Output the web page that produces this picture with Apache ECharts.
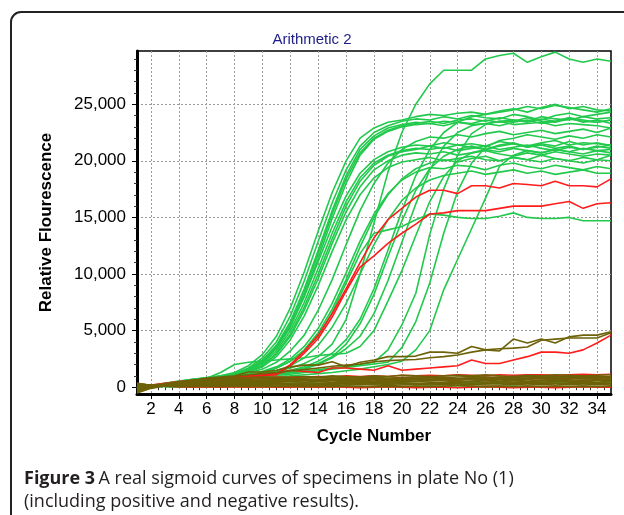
<!DOCTYPE html>
<html>
<head>
<meta charset="utf-8">
<script src="https://cdn.jsdelivr.net/npm/echarts@6/dist/echarts.min.js"></script>
<style>html,body{margin:0;padding:0;background:#fff}#chart{width:624px;height:515px}</style>
</head>
<body>
<div id="chart"></div>
<script>
// cycle numbers (x values)
var cycles = [1,2,3,4,5,6,7,8,9,10,11,12,13,14,15,16,17,18,19,20,21,22,23,24,25,26,27,28,29,30,31,32,33,34,35];
var xTicks = [2,4,6,8,10,12,14,16,18,20,22,24,26,28,30,32,34];
var yTicks = [0,5000,10000,15000,20000,25000];

// green (positive) curves
var gA1 = [-100,100,300,500,700,800,1000,1300,1900,2900,4500,7000,10200,13800,17200,20000,22000,22900,23400,23600,23900,24100,24000,24200,24300,24100,24400,24600,24300,24700,25000,24600,24800,24500,24400];
var gA2 = [0,150,350,550,700,850,1000,1200,1700,2600,4000,6300,9400,12900,16300,19200,21300,22500,23100,23500,23700,23600,23900,23700,24000,23800,23700,24100,23900,23600,24000,24200,23900,24100,24300];
var gA3 = [-200,50,250,450,650,800,950,1150,1600,2400,3700,5800,8700,12100,15600,18700,21000,22200,22900,23200,23400,23300,23500,23400,23300,23600,23400,23500,23800,23500,23400,23700,23500,23400,23600];
var gA4 = [-100,100,300,500,650,750,900,1100,1500,2200,3400,5300,8100,11400,14900,18000,20500,21900,22600,23000,23200,23300,23100,23400,23200,23300,23500,23200,23300,23400,23100,23300,23200,23100,22900];
var gA5 = [-100,50,250,450,600,750,900,1100,1550,2350,3600,5600,8400,11800,15300,18400,20700,22000,22700,23100,23300,23500,23300,23600,23700,23500,23800,23600,23500,23900,23700,23600,23900,23700,23800];
var gB1 = [-100,100,300,500,650,800,950,1200,1600,2300,3500,5400,8000,11100,14200,16900,18900,20100,20800,21200,21400,21300,21600,21400,21500,21300,21700,21500,21300,21600,21800,21400,21600,21500,21400];
var gB2 = [0,150,350,500,650,800,900,1100,1450,2100,3200,5000,7500,10500,13600,16400,18500,19800,20500,20900,21100,21000,21200,20900,21100,21300,21000,21200,21400,21100,20900,21200,21000,21300,21100];
var gB3 = [-200,0,200,400,600,750,900,1050,1400,1900,2900,4500,6800,9600,12700,15500,17700,19200,20000,20500,20700,20600,20800,20500,20700,20900,20600,20400,20700,20500,20800,20600,20400,20600,20500];
var gB4 = [-100,100,300,450,600,750,850,1000,1300,1800,2700,4200,6300,9000,12000,14800,17000,18500,19400,19900,20100,20300,20000,20200,20400,20100,20000,20300,20100,19900,20200,20000,19800,20100,20000];
var gB5 = [0,150,300,450,600,700,850,1000,1350,1950,3000,4700,7100,10000,13100,16000,18200,19600,20400,20800,21000,21300,21100,21400,21200,21000,21300,21500,21200,21400,21100,21300,21000,21200,21400];
var gC1 = [-100,100,300,450,600,700,850,1000,1250,1600,2200,3200,4600,6800,9500,12600,15600,18000,19800,21000,21700,22100,22000,22300,22100,22400,22600,22300,22500,22700,22400,22600,22800,22500,22900];
var gC2 = [0,150,300,450,600,700,800,950,1150,1400,1800,2500,3600,5200,7400,10100,12900,15300,17100,18300,19000,19400,19300,19600,19500,19200,19600,19800,19500,19300,19600,19400,19200,19500,19300];
var gC3 = [-200,50,250,400,550,700,800,900,1100,1350,1700,2300,3300,4800,6900,9500,12400,15000,17000,18400,19300,19800,20100,19900,20200,20400,20000,20300,20100,20500,20200,20000,20300,20100,20500];
var gC4 = [-100,50,200,350,500,600,700,800,950,1150,1450,1900,2600,3700,5300,7400,10000,12600,14800,16500,17600,18300,18700,18900,19100,18800,19000,19200,18900,19100,18800,19000,19200,18900,18900];
var gG15 = [-100,100,250,400,550,650,750,900,1100,1300,1700,2300,3200,4500,6600,9200,11800,13600,13900,14200,14800,15300,15200,15000,14900,14900,15100,15400,15000,14900,14900,15000,14700,14700,14700];
var gD1 = [-100,100,300,450,600,700,800,900,1000,1200,1400,1700,2100,2700,3800,6000,10000,14500,19000,22500,25000,26800,28000,28000,28000,29000,29300,29500,28700,29200,29600,29000,28700,29000,28800];
var gD2 = [-100,100,250,400,550,650,750,850,950,1100,1300,1500,1800,2300,3000,4200,6000,8700,12100,15600,18700,21000,22500,23400,23900,24100,24300,24500,24800,24600,24900,24700,24500,24300,24600];
var gD3 = [0,150,300,450,550,650,750,850,950,1050,1200,1400,1700,2100,2700,3800,5600,8200,11500,14700,17400,19300,20400,21000,21300,21000,21400,21600,21200,21500,21300,21700,21400,21600,21300];
var gD4 = [-100,100,250,400,500,600,700,800,900,1000,1100,1300,1600,2000,2600,3400,4500,6500,9400,12800,16200,19200,21300,22500,23100,23300,23100,23400,23600,23300,23500,23800,23400,23600,23300];
var gD5 = [-200,0,200,400,600,800,1300,2000,2200,2300,2400,2500,2600,2800,2900,3000,3600,5000,7600,10300,13400,16400,18600,20000,20700,21000,20800,21100,20900,20700,21000,20800,21100,20900,21000];
var gE1 = [-100,100,250,400,500,600,700,800,900,1000,1100,1250,1400,1550,1700,1850,2000,2200,3300,5500,8300,13500,17500,20500,22400,23200,23500,23600,23400,23700,23500,23800,23600,23400,23600];
var gE2 = [0,150,300,400,500,600,650,700,800,900,950,1000,1100,1200,1300,1450,1600,1800,2000,2300,3300,5000,8600,11300,14000,16700,19500,20500,20900,20700,21000,20800,20600,20900,20700];
var gE3 = [-100,50,200,350,450,550,650,750,850,950,1050,1150,1300,1450,1600,1750,1900,2050,2200,3500,5800,9200,13600,17300,19800,21200,21800,22000,22300,22100,21900,22200,22000,22300,22100];
var gF1 = [250,100,50,0,50,0,50,100,50,0,50,100,50,0,50,100,50,0,50,0,50,100,50,0,50,0,50,100,0,50,0,50,0,50,0];
var gF2 = [-300,0,150,250,300,350,300,350,400,350,300,350,400,350,300,350,400,350,400,350,300,350,400,450,400,350,400,350,400,450,400,350,400,350,400];

// red curves
var rR1 = [-100,100,300,450,550,650,750,850,950,1050,1200,2000,3200,4600,6500,8700,11000,13200,14800,15800,16800,17400,17400,17100,17800,17800,17600,18000,17900,17800,18200,17800,17800,17700,18400];
var rR2 = [-200,50,250,400,500,600,700,800,900,1000,1100,1900,3000,4300,6200,8500,10600,11600,12700,13600,14400,15300,15400,15600,15600,15600,15800,16000,16000,16000,16200,16400,15800,16200,16300];
var rR3 = [100,200,350,500,600,700,800,900,1000,1100,1200,1500,1400,1300,1700,1700,1600,1500,1900,1500,1600,1700,1800,1900,2400,2100,2100,2400,2700,3100,3100,3000,3300,3900,4600];
var rF1 = [-300,50,250,450,600,700,750,800,850,800,900,850,900,950,900,1000,950,1000,950,1050,1000,1050,1000,1100,1050,1000,1100,1050,1100,1100,1050,1100,1150,1100,1150];
var rF2 = [350,150,100,50,0,50,0,50,0,50,0,0,50,0,50,0,-50,0,50,0,-50,0,0,-50,0,50,0,-50,0,0,-50,0,50,0,0];
var rF3 = [-200,50,200,350,450,500,550,600,550,600,650,600,650,600,700,650,600,700,650,700,750,700,650,750,700,750,800,750,700,800,750,800,750,800,850];

// olive (negative) curves
var oR1 = [-200,0,200,400,600,800,900,1000,1350,1350,1500,1800,1950,1950,2250,1800,2200,2400,2700,2700,2750,3100,3100,3000,3600,3300,3200,4250,3900,4250,3900,4450,4600,4600,4900];
var oR2 = [-100,100,300,450,600,750,850,950,1100,1200,1300,1450,1550,1700,1850,1950,2050,2250,2350,2400,2450,2600,2700,2850,3100,3300,3400,3450,3550,4150,4250,4350,4350,4350,4800];
var oF1 = [-450,50,250,450,600,700,750,800,850,900,850,900,950,900,1000,950,900,1000,950,1050,1000,950,1000,1050,1000,1100,1000,950,1050,1000,1100,1050,1000,1050,1100];
var oF2 = [-350,0,200,350,500,600,650,700,700,750,800,750,800,850,800,850,900,850,800,850,900,950,850,900,950,900,850,950,1000,900,950,1000,950,900,950];
var oF3 = [-250,50,150,300,400,500,550,600,650,600,650,700,650,700,750,700,750,700,750,800,750,700,800,750,800,850,800,750,800,850,800,850,800,850,800];
var oF4 = [-150,50,150,250,350,400,450,500,500,550,500,550,600,550,600,650,600,550,650,600,650,700,650,600,700,650,700,650,700,750,650,700,750,700,650];
var oF5 = [-50,100,150,200,300,350,400,400,450,400,450,500,450,500,450,500,550,500,550,500,550,600,550,500,550,600,550,600,550,600,650,550,600,650,600];
var oF6 = [50,100,150,200,250,300,300,350,300,350,400,350,400,350,400,450,400,450,400,450,500,450,400,450,500,450,500,450,500,450,500,550,500,450,500];
var oF7 = [150,150,150,200,200,250,250,250,300,250,300,300,250,300,350,300,350,300,350,400,350,300,350,400,350,400,350,400,450,400,350,400,450,400,350];
var oF8 = [250,200,150,150,200,200,200,250,200,250,200,250,250,200,250,300,250,300,250,300,250,300,350,300,250,300,350,300,350,300,350,300,300,350,300];
var oF9 = [300,200,150,150,150,150,200,150,200,150,200,200,150,200,150,200,250,200,150,200,250,200,250,200,250,200,200,250,200,250,200,250,200,250,200];
var oF10 = [-500,-100,100,250,350,450,500,550,600,600,650,600,700,650,700,750,700,800,750,700,800,850,800,750,850,800,900,850,800,900,850,900,850,950,900];
var oF11 = [350,150,100,50,50,100,50,100,50,100,50,100,50,100,50,100,50,50,100,50,100,50,100,150,100,50,100,50,100,50,100,50,100,50,100];

var GREEN = '#22c94c', RED = '#ff1c1c', OLIVE = '#6e6208';

var greens = [gF1,gF2,gA1,gA2,gA3,gA4,gA5,gB1,gB2,gB3,gB4,gB5,gC1,gC2,gC3,gC4,gG15,gD1,gD2,gD3,gD4,gD5,gE1,gE2,gE3];
var reds = [rF2,rF3,rR1,rR2,rR3,rF1];
var olives = [oF11,oF9,oF8,oF7,oF6,oF5,oF4,oF3,oF2,oF1,oF10,oR2,oR1];

function line(vals, color, z) {
  return {
    type: 'line',
    data: vals.map(function (v, i) { return [cycles[i], v]; }),
    symbol: 'none',
    silent: true,
    z: z,
    lineStyle: { color: color, width: 1.6 }
  };
}

var series = [];
greens.forEach(function (d) { series.push(line(d, GREEN, 2)); });
reds.forEach(function (d) { series.push(line(d, RED, 3)); });
olives.forEach(function (d) { series.push(line(d, OLIVE, 4)); });

// small ticks between the labelled ones
var xMinor = [], yMinor = [];
for (var t = 1; t <= 35; t += 0.5) { if (t % 2 !== 0) xMinor.push(t); }
for (var u = 1000; u < 29700; u += 1000) { if (u % 5000 !== 0) yMinor.push(u); }

var font = 'Liberation Sans, Arial, sans-serif';
var grid = { color: '#9a9a9a', type: [2, 2], width: 1 };

var chart = echarts.init(document.getElementById('chart'));
chart.setOption({
  animation: false,
  backgroundColor: '#fff',
  title: {
    text: 'Arithmetic 2',
    left: 'center',
    top: 27,
    textStyle: { fontFamily: font, fontSize: 15, fontWeight: 'normal', color: '#1c1c8a' }
  },
  grid: { left: 137, top: 51, width: 474, height: 343, show: true, borderColor: '#000', borderWidth: 1.5, containLabel: false },
  xAxis: [{
    type: 'value', min: 1, max: 35, position: 'bottom',
    name: 'Cycle Number', nameLocation: 'middle', nameGap: 34,
    nameTextStyle: { fontFamily: font, fontSize: 17, fontWeight: 'bold', color: '#000' },
    axisLine: { onZero: false, lineStyle: { color: '#000', width: 3 } },
    axisTick: { customValues: xTicks, length: 5, lineStyle: { color: '#000' } },
    axisLabel: { customValues: xTicks, fontFamily: font, fontSize: 17, color: '#000', margin: 7 },
    splitLine: { show: true, lineStyle: grid }
  }, {
    type: 'value', min: 1, max: 35, position: 'bottom',
    axisLine: { show: false },
    axisTick: { customValues: xMinor, length: 3, lineStyle: { color: '#333' } },
    axisLabel: { show: false },
    splitLine: { show: false }
  }],
  yAxis: [{
    type: 'value', min: -600, max: 29700, position: 'left',
    name: 'Relative Flourescence', nameLocation: 'middle', nameGap: 82,
    nameTextStyle: { fontFamily: font, fontSize: 17, fontWeight: 'bold', color: '#000' },
    axisLine: { onZero: false, lineStyle: { color: '#000', width: 3 } },
    axisTick: { customValues: yTicks, length: 5, lineStyle: { color: '#000' } },
    axisLabel: {
      customValues: yTicks, fontFamily: font, fontSize: 17, color: '#000', margin: 11,
      formatter: function (v) { return v.toLocaleString('en-US'); }
    },
    splitLine: { show: true, lineStyle: grid }
  }, {
    type: 'value', min: -600, max: 29700, position: 'left', offset: 0,
    axisLine: { show: false },
    axisTick: { customValues: yMinor, length: 3, lineStyle: { color: '#333' } },
    axisLabel: { show: false },
    splitLine: { show: false }
  }],
  graphic: [{
    type: 'rect', silent: true,
    shape: { x: 11, y: 12, width: 700, height: 600, r: 10 },
    style: { fill: 'none', stroke: '#222', lineWidth: 2 }
  }, {
    type: 'text', left: 24, top: 470, silent: true,
    style: {
      text: '{b|Figure 3} {n|A real sigmoid curves of specimens in plate No (1)}\n{n|(including positive and negative results).}',
      rich: {
        b: { fontFamily: 'Open Sans', fontWeight: 'bold', fontSize: 18, fill: '#231f20', lineHeight: 23 },
        n: { fontFamily: 'Open Sans', fontSize: 18, fill: '#231f20', lineHeight: 23 }
      }
    }
  }],
  series: series
});
</script>
</body>
</html>
